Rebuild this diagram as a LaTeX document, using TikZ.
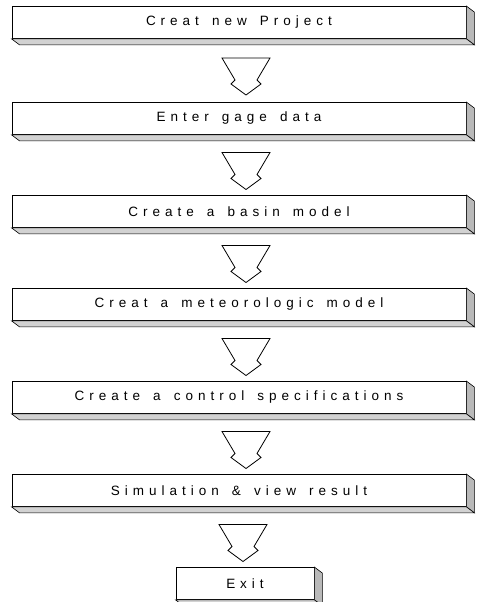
\documentclass[tikz,border=0pt]{standalone}
\usepackage{fontspec}
\usetikzlibrary{positioning, calc}
\newfontfamily\boxfont[LetterSpace=37,WordSpace=1.5]{Liberation Sans}

\begin{document}
\begin{tikzpicture}[x=1pt,y=1pt,node distance=93pt,on grid]
\tikzset{
  stepbox/.style={draw,fill=white,line width=0.8pt,minimum width=454pt,minimum height=32pt,inner sep=0pt,font=\boxfont\fontsize{13.5}{16}\selectfont},
  sideface/.style={draw,fill=gray!55,line width=0.6pt},
  bottomface/.style={draw,fill=gray!35,line width=0.6pt},
  downarrow/.pic={
    \draw[fill=white,line width=0.8pt,line join=miter]
      (-24,18.5) -- (-11,-3.5) -- (-15,-7.5) -- (0,-18.5) -- (15,-7.5) -- (11,-3.5) -- (24,18.5) -- cycle;
  }
}
\useasboundingbox (0,0) rectangle (481,-602);

  %--- boxes ---
  \node[stepbox] (new) at (239,-22.5) {Creat new Project};
  \node[stepbox] (gage) [below=of new, yshift=-3pt] {Enter gage data};
  \node[stepbox] (basin) [below=of gage] {Create a basin model};
  \node[stepbox] (meteo) [below=of basin] {Creat a meteorologic model};
  \node[stepbox] (control) [below=of meteo] {Create a control specifications};
  \node[stepbox] (sim) [below=of control] {Simulation \& view result};
  \node[stepbox, minimum width=138pt] (exit) [below=of sim, xshift=6pt] {Exit};

  %--- shaded faces ---
  \foreach \n in {new,gage,basin,meteo,control,sim,exit} {
    \path[sideface] (\n.north east) -- ++(8,-6) -- ($(\n.south east)+(8,-6)$) -- (\n.south east) -- cycle;
    \path[bottomface] (\n.south west) -- (\n.south east) -- ++(8,-6) -- ($(\n.south west)+(8,-6)$) -- cycle;
  }

  %--- arrows ---
  \foreach \a/\b in {new/gage,gage/basin,basin/meteo,meteo/control,control/sim}
    \pic at ($(\a.south)!0.5!(\b.north)+(7,-6)$) {downarrow};
  \pic at ($(sim.south)!0.5!(exit.north)+(1,-6)$) {downarrow};
\end{tikzpicture}
\end{document}
